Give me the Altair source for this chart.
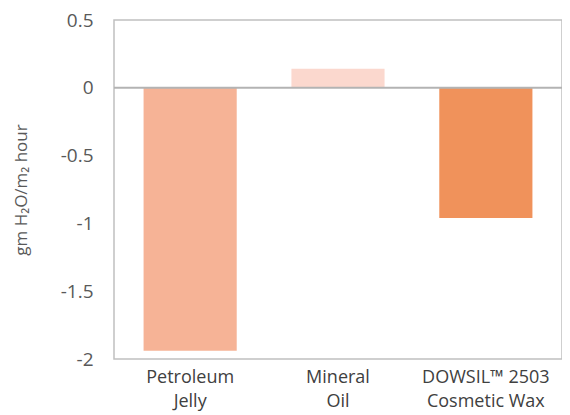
import altair as alt
import pandas as pd

categories = ["Petroleum|Jelly", "Mineral|Oil", "DOWSIL™ 2503|Cosmetic Wax"]
values = [-1.94, 0.14, -0.96]
colors = ["#F6B396", "#FBD8CE", "#F0925B"]
y_ticks = [-2, -1.5, -1, -0.5, 0, 0.5]

df = pd.DataFrame({"cat": categories, "val": values, "color": colors})

FONT = "Open Sans"

bars = alt.Chart(df).mark_bar().encode(
    x=alt.X("cat:N", sort=categories,
            scale=alt.Scale(paddingInner=0.37, paddingOuter=0.2),
            axis=alt.Axis(title=None, labelAngle=0, domain=False, ticks=False,
                          labelPadding=9, labelFontSize=18, labelColor="#404040",
                          labelFont=FONT, labelLineHeight=24,
                          labelExpr="split(datum.label, '|')")),
    y=alt.Y("val:Q", scale=alt.Scale(domain=[-2, 0.5], nice=False),
            axis=alt.Axis(title="gm H₂O/m₂ hour", values=y_ticks,
                          grid=False, ticks=False, domain=False,
                          labelPadding=21, labelFontSize=19, labelColor="#595959",
                          labelFont=FONT, labelExpr="'' + datum.value",
                          titleFont=FONT, titleFontSize=17, titleFontWeight="normal",
                          titleColor="#595959", titlePadding=30)),
    color=alt.Color("color:N", scale=None),
)

zero = alt.Chart(pd.DataFrame({"z": [0]})).mark_rule(color="#b3b3b3", strokeWidth=2).encode(
    y="z:Q"
)

chart = (bars + zero).properties(
    width=448, height=339,
    autosize=alt.AutoSizeParams(type="none"),
    padding={"left": 106, "top": 12, "right": 0, "bottom": 56},
).configure_view(stroke="#c0c0c0", strokeWidth=1.5)

chart.save("out.html", embed_options={"renderer": "svg", "actions": False})
